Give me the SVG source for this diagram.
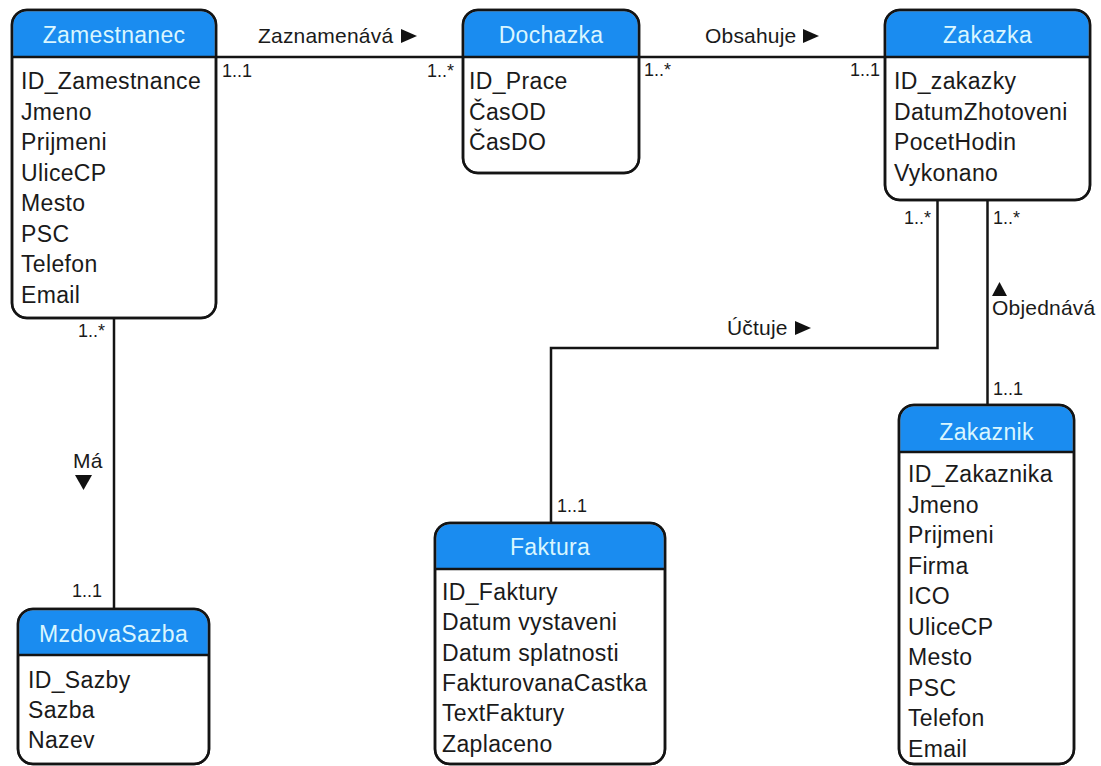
<svg xmlns="http://www.w3.org/2000/svg" width="1101" height="766" viewBox="0 0 1101 766">
  <style>
    .box { fill: #ffffff; stroke: #141414; stroke-width: 2.5; }
    .head { fill: #1a8cf0; stroke: none; }
    .sep { stroke: #141414; stroke-width: 2.5; }
    .title { font-family: "Liberation Sans", Arial, sans-serif; font-size: 23px; letter-spacing: 0.3px; fill: #d9f6ff; text-anchor: middle; }
    .attr { font-family: "Liberation Sans", Arial, sans-serif; font-size: 23px; letter-spacing: 0.35px; fill: #1a1a1a; }
    .conn { fill: none; stroke: #141414; stroke-width: 2.5; }
    .lbl { font-family: "Liberation Sans", Arial, sans-serif; font-size: 21px; letter-spacing: 0.2px; fill: #1a1a1a; }
    .mult { font-family: "Liberation Sans", Arial, sans-serif; font-size: 18px; fill: #1a1a1a; }
    .tri { fill: #111111; }
  </style>

  <rect x="0" y="0" width="1101" height="766" fill="#ffffff"/>

  <!-- connectors with their labels and multiplicities -->
  <g id="connectors">
    <!-- Zamestnanec - Dochazka -->
    <line class="conn" x1="216" y1="57" x2="463" y2="57"/>
    <text class="lbl" x="258" y="43">Zaznamenává</text>
    <polygon class="tri" points="401,29 417,36 401,43"/>
    <text class="mult" x="222" y="77">1..1</text>
    <text class="mult" x="454" y="77" text-anchor="end">1..*</text>

    <!-- Dochazka - Zakazka -->
    <line class="conn" x1="639" y1="57" x2="885" y2="57"/>
    <text class="lbl" x="705" y="43">Obsahuje</text>
    <polygon class="tri" points="803,29 819,36 803,43"/>
    <text class="mult" x="644" y="76">1..*</text>
    <text class="mult" x="880" y="76" text-anchor="end">1..1</text>

    <!-- Zamestnanec - MzdovaSazba -->
    <line class="conn" x1="114" y1="318" x2="114" y2="609"/>
    <text class="mult" x="105" y="337" text-anchor="end">1..*</text>
    <text class="lbl" x="73" y="468">Má</text>
    <polygon class="tri" points="75,475 92,475 83.5,490"/>
    <text class="mult" x="102" y="597" text-anchor="end">1..1</text>

    <!-- Zakazka - Faktura -->
    <polyline class="conn" points="937.5,200 937.5,348 551,348 551,523"/>
    <text class="mult" x="931" y="224" text-anchor="end">1..*</text>
    <text class="lbl" x="727" y="335">Účtuje</text>
    <polygon class="tri" points="795,321 811,328 795,335"/>
    <text class="mult" x="557" y="512">1..1</text>

    <!-- Zakazka - Zakaznik -->
    <line class="conn" x1="987.5" y1="200" x2="987.5" y2="405"/>
    <text class="mult" x="993" y="224">1..*</text>
    <polygon class="tri" points="992,296 1007,296 999.5,282"/>
    <text class="lbl" x="992" y="315">Objednává</text>
    <text class="mult" x="993" y="395">1..1</text>
  </g>

  <!-- entity: Zamestnanec -->
  <g id="zamestnanec">
    <rect class="box" x="12" y="10" width="204" height="308" rx="15"/>
    <path class="head" d="M13.25,57 V25 A13.75,13.75 0 0 1 27,11.25 H201 A13.75,13.75 0 0 1 214.75,25 V57 Z"/>
    <rect x="12" y="10" width="204" height="308" rx="15" fill="none" stroke="#141414" stroke-width="2.5"/>
    <line class="sep" x1="12" y1="57" x2="216" y2="57"/>
    <text class="title" x="114" y="43">Zamestnanec</text>
    <text class="attr" x="21" y="89">ID_Zamestnance</text>
    <text class="attr" x="21" y="119.5">Jmeno</text>
    <text class="attr" x="21" y="150">Prijmeni</text>
    <text class="attr" x="21" y="180.5">UliceCP</text>
    <text class="attr" x="21" y="211">Mesto</text>
    <text class="attr" x="21" y="241.5">PSC</text>
    <text class="attr" x="21" y="272">Telefon</text>
    <text class="attr" x="21" y="302.5">Email</text>
  </g>

  <!-- entity: Dochazka -->
  <g id="dochazka">
    <rect class="box" x="463" y="10" width="176" height="163" rx="15"/>
    <path class="head" d="M464.25,57 V25 A13.75,13.75 0 0 1 478,11.25 H624 A13.75,13.75 0 0 1 637.75,25 V57 Z"/>
    <rect x="463" y="10" width="176" height="163" rx="15" fill="none" stroke="#141414" stroke-width="2.5"/>
    <line class="sep" x1="463" y1="57" x2="639" y2="57"/>
    <text class="title" x="551" y="43">Dochazka</text>
    <text class="attr" x="469" y="89">ID_Prace</text>
    <text class="attr" x="469" y="119.5">ČasOD</text>
    <text class="attr" x="469" y="150">ČasDO</text>
  </g>

  <!-- entity: Zakazka -->
  <g id="zakazka">
    <rect class="box" x="885" y="10" width="205" height="190" rx="15"/>
    <path class="head" d="M886.25,57 V25 A13.75,13.75 0 0 1 900,11.25 H1075 A13.75,13.75 0 0 1 1088.75,25 V57 Z"/>
    <rect x="885" y="10" width="205" height="190" rx="15" fill="none" stroke="#141414" stroke-width="2.5"/>
    <line class="sep" x1="885" y1="57" x2="1090" y2="57"/>
    <text class="title" x="987.5" y="43">Zakazka</text>
    <text class="attr" x="894" y="89">ID_zakazky</text>
    <text class="attr" x="894" y="119.5">DatumZhotoveni</text>
    <text class="attr" x="894" y="150">PocetHodin</text>
    <text class="attr" x="894" y="180.5">Vykonano</text>
  </g>

  <!-- entity: MzdovaSazba -->
  <g id="mzdovasazba">
    <rect class="box" x="18" y="609" width="191" height="155" rx="15"/>
    <path class="head" d="M19.25,655 V624 A13.75,13.75 0 0 1 33,610.25 H194 A13.75,13.75 0 0 1 207.75,624 V655 Z"/>
    <rect x="18" y="609" width="191" height="155" rx="15" fill="none" stroke="#141414" stroke-width="2.5"/>
    <line class="sep" x1="18" y1="655" x2="209" y2="655"/>
    <text class="title" x="113.5" y="642">MzdovaSazba</text>
    <text class="attr" x="28" y="688">ID_Sazby</text>
    <text class="attr" x="28" y="718">Sazba</text>
    <text class="attr" x="28" y="748">Nazev</text>
  </g>

  <!-- entity: Faktura -->
  <g id="faktura">
    <rect class="box" x="435" y="523" width="230" height="241" rx="15"/>
    <path class="head" d="M436.25,569 V538 A13.75,13.75 0 0 1 450,524.25 H650 A13.75,13.75 0 0 1 663.75,538 V569 Z"/>
    <rect x="435" y="523" width="230" height="241" rx="15" fill="none" stroke="#141414" stroke-width="2.5"/>
    <line class="sep" x1="435" y1="569" x2="665" y2="569"/>
    <text class="title" x="550" y="555">Faktura</text>
    <text class="attr" x="442" y="600">ID_Faktury</text>
    <text class="attr" x="442" y="630.3">Datum vystaveni</text>
    <text class="attr" x="442" y="660.6">Datum splatnosti</text>
    <text class="attr" x="442" y="690.9">FakturovanaCastka</text>
    <text class="attr" x="442" y="721.2">TextFaktury</text>
    <text class="attr" x="442" y="751.5">Zaplaceno</text>
  </g>

  <!-- entity: Zakaznik -->
  <g id="zakaznik">
    <rect class="box" x="899" y="405" width="175" height="359" rx="15"/>
    <path class="head" d="M900.25,452 V420 A13.75,13.75 0 0 1 914,406.25 H1059 A13.75,13.75 0 0 1 1072.75,420 V452 Z"/>
    <rect x="899" y="405" width="175" height="359" rx="15" fill="none" stroke="#141414" stroke-width="2.5"/>
    <line class="sep" x1="899" y1="452" x2="1074" y2="452"/>
    <text class="title" x="986.5" y="440">Zakaznik</text>
    <text class="attr" x="908" y="482">ID_Zakaznika</text>
    <text class="attr" x="908" y="512.5">Jmeno</text>
    <text class="attr" x="908" y="543">Prijmeni</text>
    <text class="attr" x="908" y="573.5">Firma</text>
    <text class="attr" x="908" y="604">ICO</text>
    <text class="attr" x="908" y="634.5">UliceCP</text>
    <text class="attr" x="908" y="665">Mesto</text>
    <text class="attr" x="908" y="695.5">PSC</text>
    <text class="attr" x="908" y="726">Telefon</text>
    <text class="attr" x="908" y="756.5">Email</text>
  </g>
</svg>
